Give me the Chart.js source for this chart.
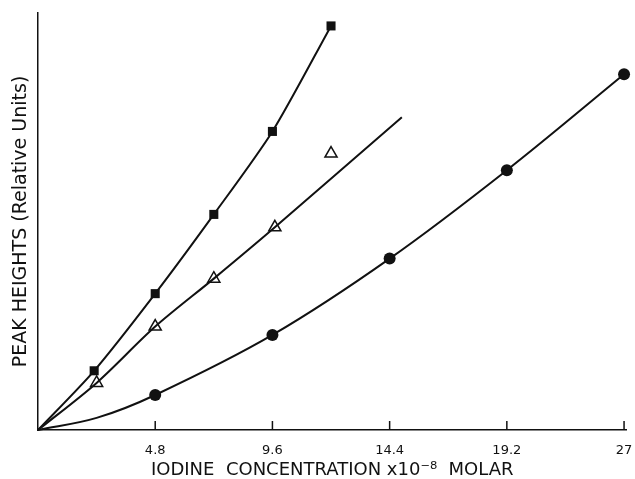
<!DOCTYPE html>
<html>
<head>
<meta charset="utf-8">
<script src="https://cdn.jsdelivr.net/npm/chart.js@4.4.1/dist/chart.umd.min.js"></script>
<style>
  body { margin: 0; background: #fff; }
  #wrap { width: 635px; height: 479px; }
</style>
</head>
<body>
<div id="wrap"><canvas id="myChart"></canvas></div>
<script>
// x positions on the axis, and the labels printed under them
const tickValues = [4.8, 9.6, 14.4, 19.2, 24];
const tickLabels = ['4.8', '9.6', '14.4', '19.2', '27'];

// filled squares
const squareConc = [0, 2.3, 4.8, 7.2, 9.6, 12.0];
const squarePeak = [0, 14.2, 32.7, 51.7, 71.6, 96.9];

// open triangles and their fitted line
const triConc = [2.4, 4.8, 7.2, 9.7, 12.0];
const triPeak = [11.3, 24.8, 36.3, 48.6, 66.3];
const triLineConc = [0, 2.4, 4.8, 7.2, 9.7, 14.9];
const triLinePeak = [0, 11.3, 24.8, 36.3, 48.6, 75.0];

// filled circles
const circleConc = [0, 2.4, 4.8, 9.6, 14.4, 19.2, 24.0];
const circlePeak = [0, 2.9, 8.4, 22.8, 41.1, 62.3, 85.3];

const pts = (xs, ys) => xs.map((x, i) => ({x: x, y: ys[i]}));
const ink = '#111';

const insideTicks = {
    id: 'insideTicks',
    afterDraw(chart) {
        const sx = chart.scales.x;
        const c = chart.ctx;
        c.save();
        c.strokeStyle = ink;
        c.lineWidth = 1.5;
        sx.ticks.forEach(t => {
            const px = sx.getPixelForValue(t.value);
            c.beginPath();
            c.moveTo(px, sx.top);
            c.lineTo(px, sx.top - 9);
            c.stroke();
        });
        c.restore();
    }
};

const ctx = document.getElementById('myChart').getContext('2d');
const myChart = new Chart(ctx, {
    type: 'scatter',
    data: {
        datasets: [
            {
                data: pts(squareConc, squarePeak),
                showLine: true,
                tension: 0.25,
                borderColor: ink,
                borderWidth: 2,
                pointRadius: squareConc.map(v => v === 0 ? 0 : 6.4),
                pointStyle: 'rect',
                pointBackgroundColor: ink,
                pointBorderColor: ink,
                pointBorderWidth: 0
            },
            {
                data: pts(triLineConc, triLinePeak),
                showLine: true,
                tension: 0.3,
                borderColor: ink,
                borderWidth: 2,
                pointRadius: 0
            },
            {
                data: pts(triConc, triPeak),
                showLine: false,
                pointStyle: 'triangle',
                pointRadius: 7,
                pointBackgroundColor: '#fff',
                pointBorderColor: ink,
                pointBorderWidth: 1.5
            },
            {
                data: pts(circleConc, circlePeak),
                showLine: true,
                tension: 0.35,
                borderColor: ink,
                borderWidth: 2,
                pointRadius: circleConc.map((v, i) => i < 2 ? 0 : 6),
                pointStyle: 'circle',
                pointBackgroundColor: ink,
                pointBorderColor: ink,
                pointBorderWidth: 0
            }
        ]
    },
    options: {
        responsive: true,
        maintainAspectRatio: false,
        animation: false,
        clip: false,
        layout: { padding: { top: 13, right: 8, left: 0, bottom: 0 } },
        plugins: {
            legend: { display: false },
            tooltip: { enabled: false }
        },
        scales: {
            x: {
                type: 'linear',
                min: 0,
                max: 24.1,
                afterBuildTicks: s => { s.ticks = tickValues.map(v => ({value: v})); },
                afterFit: s => { s.height = 49; s.paddingRight = 0; s.paddingLeft = 0; },
                grid: { display: false },
                border: { color: ink, width: 1.5 },
                ticks: {
                    padding: 5,
                    color: ink,
                    font: { family: 'DejaVu Sans', size: 13 },
                    callback: (v, i) => tickLabels[i]
                },
                title: {
                    display: true,
                    text: 'IODINE  CONCENTRATION x10\u207B\u2078  MOLAR',
                    color: ink,
                    font: { family: 'DejaVu Sans', size: 18, lineHeight: 1 },
                    padding: { top: 0, bottom: 0 }
                }
            },
            y: {
                min: 0,
                max: 100,
                afterFit: s => { s.width = 38; },
                grid: { display: false },
                border: { color: ink, width: 1.5 },
                ticks: { display: false },
                title: {
                    display: true,
                    text: 'PEAK HEIGHTS (Relative Units)',
                    color: ink,
                    font: { family: 'DejaVu Sans', size: 19, lineHeight: 1 },
                    padding: { top: 12, bottom: 0 }
                }
            }
        }
    },
    plugins: [insideTicks]
});
</script>
</body>
</html>
